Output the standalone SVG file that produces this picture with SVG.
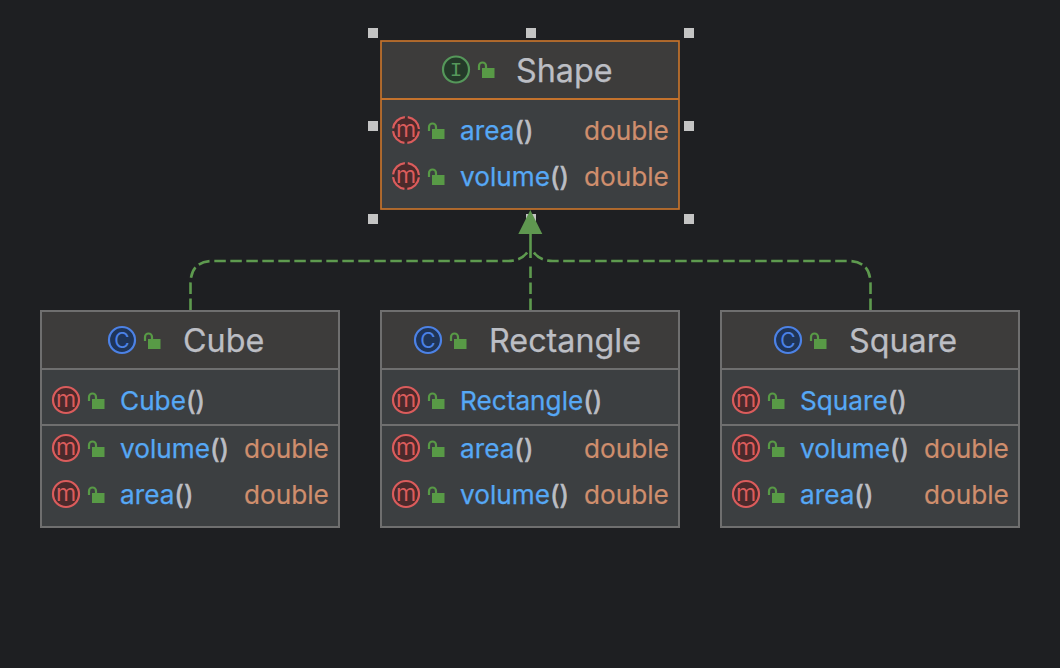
<svg xmlns="http://www.w3.org/2000/svg" width="1060" height="668" viewBox="0 0 1060 668">
<style>
text{font-family:Inter,"Noto Sans","Liberation Sans",sans-serif}
.body{fill:#3c3f41}
.head{fill:#3d3c3b}
.frame{fill:none;stroke:#6f6f6f;stroke-width:2}
.div{stroke:#6f6f6f;stroke-width:2}
.sel{stroke:#c4722c}
.title{font-size:32.3px;fill:#bcbec4;stroke:#bcbec4;stroke-width:.25}
.fn{font-size:26.2px;fill:#56a8f5;stroke:#56a8f5;stroke-width:.25}
.pr{font-size:26.2px;fill:#bcbec4;stroke:#bcbec4;stroke-width:.7}
.ty{font-size:26.2px;fill:#cf8e6d;stroke:#cf8e6d;stroke-width:.2}
.conn{fill:none;stroke:#5e9a4f;stroke-width:2.600;stroke-dasharray:11.500 4.500}
.hnd{fill:#c4c4c4}
.mc{fill:#4a2a2b;stroke:#db5c5c;stroke-width:2.200}
.mcd{fill:#4a2a2b;stroke:#db5c5c;stroke-width:2.200;stroke-dasharray:17.400 3;stroke-dashoffset:-1.500}
.ml{font-size:23px;fill:#db5c5c;text-anchor:middle}
.lb{fill:#589a46}
.ls{fill:none;stroke:#589a46;stroke-width:2.200}
</style>
<defs>
<g id="lock"><rect class="lb" x="1" y="-2" width="12.500" height="10"/><path class="ls" d="M-2 0V-4a3.500 3.500 0 0 1 7 0V-2"/></g>
<g id="m"><circle class="mc" r="13"/><text class="ml" y="6.500">m</text></g>
<g id="ma"><circle class="mcd" r="13"/><text class="ml" y="6.500">m</text></g>
<g id="c"><circle r="13" fill="#1f3558" stroke="#4c82e6" stroke-width="2.200"/><text y="7.500" text-anchor="middle" font-size="21" fill="#4c82e6">C</text></g>
<g id="i"><circle r="13" fill="#243a29" stroke="#55985a" stroke-width="2.200"/><text y="6.500" text-anchor="middle" font-size="21" fill="#55985a" style="font-family:'Liberation Mono',monospace">I</text></g>
</defs>
<rect width="1060" height="668" fill="#1e1f22"/>

<g id="handles">
<rect class="hnd" x="368" y="28" width="10" height="10"/><rect class="hnd" x="526" y="28" width="10" height="10"/><rect class="hnd" x="684" y="28" width="10" height="10"/>
<rect class="hnd" x="368" y="121" width="10" height="10"/><rect class="hnd" x="684" y="121" width="10" height="10"/>
<rect class="hnd" x="368" y="214" width="10" height="10"/><rect class="hnd" x="526" y="214" width="10" height="10"/><rect class="hnd" x="684" y="214" width="10" height="10"/>
</g>

<g id="connectors">
<path class="conn" d="M190.500 310V284Q190.500 261 213 261H508Q522 261 528 251"/>
<path class="conn" d="M870.500 310V284Q870.500 261 848 261H553Q539 261 533 251"/>
<path class="conn" d="M530.500 310V264"/>
<path d="M530.500 234V258" fill="none" stroke="#5e9a4f" stroke-width="2.600"/>
<path d="M530.300 210L542.300 234H518.300Z" fill="#5f9750"/>
</g>

<g id="node-shape">
<rect class="head" x="381" y="41" width="298" height="58"/>
<rect class="body" x="381" y="99" width="298" height="110"/>
<rect class="frame sel" x="381" y="41" width="298" height="168" style="stroke-width:1.700"/>
<line class="div sel" x1="381" y1="99" x2="679" y2="99"/>
<use href="#i" x="456" y="69.500"/><use href="#lock" x="481" y="70"/>
<text class="title" x="516" y="81.500">Shape</text>
<use href="#ma" x="406" y="130"/><use href="#lock" x="431" y="131"/>
<text x="460" y="140"><tspan class="fn">area</tspan><tspan class="pr">()</tspan></text>
<text class="ty" x="584" y="140">double</text>
<use href="#ma" x="406" y="176"/><use href="#lock" x="431" y="177"/>
<text x="460" y="186"><tspan class="fn">volume</tspan><tspan class="pr">()</tspan></text>
<text class="ty" x="584" y="186">double</text>
</g>

<g id="node-cube">
<rect class="head" x="41" y="311" width="298" height="58"/>
<rect class="body" x="41" y="369" width="298" height="158"/>
<rect class="frame" x="41" y="311" width="298" height="216"/>
<line class="div" x1="41" y1="369" x2="339" y2="369"/><line class="div" x1="41" y1="425" x2="339" y2="425"/>
<use href="#c" x="122" y="340"/><use href="#lock" x="147" y="341"/>
<text class="title" x="183" y="351.500">Cube</text>
<use href="#m" x="66" y="400"/><use href="#lock" x="91" y="401"/>
<text x="120" y="410"><tspan class="fn">Cube</tspan><tspan class="pr">()</tspan></text>
<use href="#m" x="66" y="448"/><use href="#lock" x="91" y="449"/>
<text x="120" y="458"><tspan class="fn">volume</tspan><tspan class="pr">()</tspan></text>
<text class="ty" x="244" y="458">double</text>
<use href="#m" x="66" y="494"/><use href="#lock" x="91" y="495"/>
<text x="120" y="504"><tspan class="fn">area</tspan><tspan class="pr">()</tspan></text>
<text class="ty" x="244" y="504">double</text>
</g>

<g id="node-rectangle">
<rect class="head" x="381" y="311" width="298" height="58"/>
<rect class="body" x="381" y="369" width="298" height="158"/>
<rect class="frame" x="381" y="311" width="298" height="216"/>
<line class="div" x1="381" y1="369" x2="679" y2="369"/><line class="div" x1="381" y1="425" x2="679" y2="425"/>
<use href="#c" x="428" y="340"/><use href="#lock" x="453" y="341"/>
<text class="title" x="489" y="351.500">Rectangle</text>
<use href="#m" x="406" y="400"/><use href="#lock" x="431" y="401"/>
<text x="460" y="410"><tspan class="fn">Rectangle</tspan><tspan class="pr">()</tspan></text>
<use href="#m" x="406" y="448"/><use href="#lock" x="431" y="449"/>
<text x="460" y="458"><tspan class="fn">area</tspan><tspan class="pr">()</tspan></text>
<text class="ty" x="584" y="458">double</text>
<use href="#m" x="406" y="494"/><use href="#lock" x="431" y="495"/>
<text x="460" y="504"><tspan class="fn">volume</tspan><tspan class="pr">()</tspan></text>
<text class="ty" x="584" y="504">double</text>
</g>

<g id="node-square">
<rect class="head" x="721" y="311" width="298" height="58"/>
<rect class="body" x="721" y="369" width="298" height="158"/>
<rect class="frame" x="721" y="311" width="298" height="216"/>
<line class="div" x1="721" y1="369" x2="1019" y2="369"/><line class="div" x1="721" y1="425" x2="1019" y2="425"/>
<use href="#c" x="788" y="340"/><use href="#lock" x="813" y="341"/>
<text class="title" x="849" y="351.500">Square</text>
<use href="#m" x="746" y="400"/><use href="#lock" x="771" y="401"/>
<text x="800" y="410"><tspan class="fn">Square</tspan><tspan class="pr">()</tspan></text>
<use href="#m" x="746" y="448"/><use href="#lock" x="771" y="449"/>
<text x="800" y="458"><tspan class="fn">volume</tspan><tspan class="pr">()</tspan></text>
<text class="ty" x="924" y="458">double</text>
<use href="#m" x="746" y="494"/><use href="#lock" x="771" y="495"/>
<text x="800" y="504"><tspan class="fn">area</tspan><tspan class="pr">()</tspan></text>
<text class="ty" x="924" y="504">double</text>
</g>
</svg>
